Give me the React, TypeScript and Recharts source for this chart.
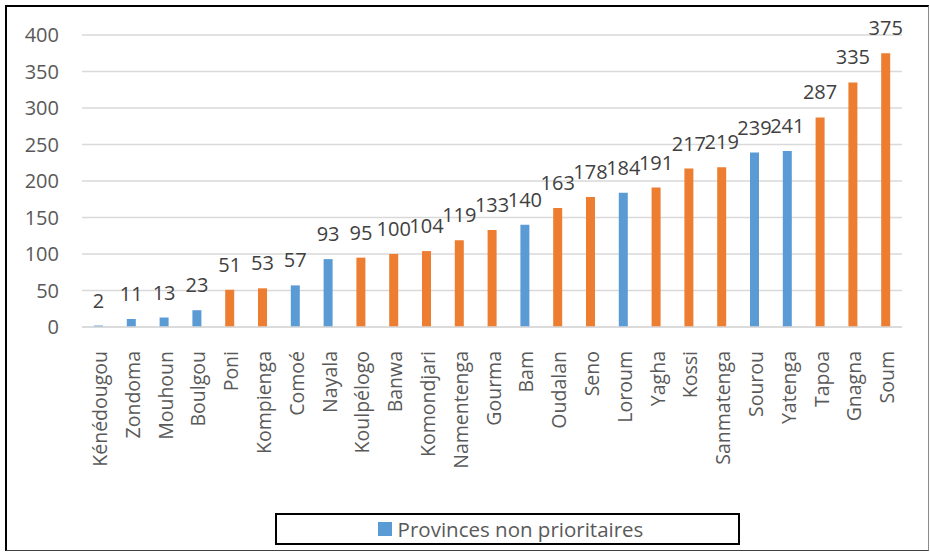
import React from 'react';
import { BarChart, Bar, XAxis, YAxis, CartesianGrid, Cell, LabelList } from 'recharts';

const PROVINCES = [
  'Kénédougou', 'Zondoma', 'Mouhoun', 'Boulgou', 'Poni', 'Kompienga', 'Comoé', 'Nayala',
  'Koulpélogo', 'Banwa', 'Komondjari', 'Namentenga', 'Gourma', 'Bam', 'Oudalan', 'Seno',
  'Loroum', 'Yagha', 'Kossi', 'Sanmatenga', 'Sourou', 'Yatenga', 'Tapoa', 'Gnagna', 'Soum',
];
const VALUES = [2, 11, 13, 23, 51, 53, 57, 93, 95, 100, 104, 119, 133, 140, 163, 178, 184, 191, 217, 219, 239, 241, 287, 335, 375];
// true = province prioritaire (orange), false = non prioritaire (blue)
const PRIORITY = [false, false, false, false, true, true, false, false, true, true, true, true, true, false, true, true, false, true, true, true, false, false, true, true, true];
const Y_TICKS = [0, 50, 100, 150, 200, 250, 300, 350, 400];

const BLUE = '#5B9BD5';
const ORANGE = '#ED7D31';
const FONT = '"Open Sans", Lato, sans-serif';

const data = PROVINCES.map((name, i) => ({ name, value: VALUES[i], prio: PRIORITY[i] }));

const CategoryTick = (props: any) => {
  const { x, y, payload } = props;
  return (
    <text
      x={0}
      y={0}
      transform={`translate(${x + 1},${y + 16}) rotate(-90)`}
      textAnchor="end"
      dominantBaseline="central"
      fill="#595959"
      fontSize={19.5}
      fontFamily={FONT}
    >
      {payload.value}
    </text>
  );
};

export default function App() {
  return (
    <div style={{ position: 'fixed', left: 0, top: 0, width: 930, height: 552, background: '#fff', fontFamily: FONT }}>
      {/* outer frame */}
      <div style={{
        position: 'absolute', left: 5, top: 5, width: 921, height: 543,
        borderTop: '2px solid #000', borderLeft: '2px solid #000',
        borderRight: '1px solid #8c8c8c', borderBottom: '1px solid #404040',
      }} />
      <BarChart width={930} height={552} data={data} margin={{ top: 35, right: 28, left: 0, bottom: 0 }} barSize={9}>
        <CartesianGrid vertical={false} stroke="#D9D9D9" strokeWidth={1.5} />
        <XAxis
          dataKey="name"
          interval={0}
          height={225}
          tickLine={false}
          axisLine={{ stroke: '#D9D9D9', strokeWidth: 1.5 }}
          tick={<CategoryTick />}
        />
        <YAxis
          width={82}
          domain={[0, 400]}
          ticks={Y_TICKS}
          axisLine={false}
          tickLine={false}
          tickSize={0}
          tickMargin={23}
          tick={{ fill: '#595959', fontSize: 20, fontFamily: FONT }}
        />
        <Bar dataKey="value" isAnimationActive={false}>
          {data.map((d, i) => <Cell key={i} fill={d.prio ? ORANGE : BLUE} />)}
          <LabelList dataKey="value" position="top" offset={18} fill="#404040" fontSize={20} fontFamily={FONT} />
        </Bar>
      </BarChart>
      {/* legend box */}
      <div style={{
        position: 'absolute', left: 275, top: 513, width: 461, height: 28,
        border: '2px solid #000', display: 'flex', alignItems: 'center', justifyContent: 'center',
      }}>
        <div style={{ display: 'flex', alignItems: 'center', gap: 6, marginLeft: 6 }}>
          <div style={{ width: 14, height: 14, background: BLUE }} />
          <span style={{ fontSize: 20.5, color: '#595959' }}>Provinces non prioritaires</span>
        </div>
      </div>
    </div>
  );
}
